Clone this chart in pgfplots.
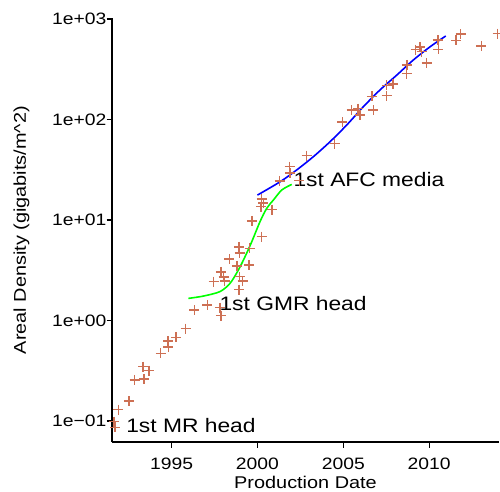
\documentclass[border=0pt]{standalone}
\usepackage{fontspec}
\setmainfont{Liberation Sans}[FakeStretch=1.17]
\usepackage{pgfplots}
\pgfplotsset{compat=1.18}
\definecolor{ptcol}{RGB}{205,112,84}
\definecolor{gcol}{RGB}{0,255,0}
\definecolor{bcol}{RGB}{0,0,255}
\begin{document}
\fontsize{16.5}{19}\selectfont
\begin{tikzpicture}
\useasboundingbox (-112pt,-49pt) rectangle (388pt,442pt);
\begin{axis}[
  at={(0pt,0pt)}, anchor=south west,
  scale only axis, width=387pt, height=424pt,
  ymode=log,
  xmin=1991.53, xmax=2014.07, ymin=0.0618, ymax=1023,
  axis x line*=bottom, axis y line*=left,
  axis line style={-, line width=1.1pt, black},
  tick style={line width=1.1pt, black},
  tick align=outside, major tick length=5.5pt, minor tick length=0pt,
  xtick={1995,2000,2005,2010}, xticklabels={1995,2000,2005,2010},
  ytick={0.1,1,10,100,1000}, yticklabels={1e−01,1e+00,1e+01,1e+02,1e+03},
  xticklabel style={font=\fontsize{16.5}{19}\selectfont, anchor=base, inner sep=0pt, yshift=-21.5pt},
  yticklabel style={font=\fontsize{16.5}{19}\selectfont, anchor=east, inner sep=0pt},
  xlabel={Production Date},
  ylabel={Areal Density (gigabits/m\textasciicircum2)},
  xlabel style={font=\fontsize{17}{20}\selectfont, at={([yshift=-46pt]rel axis cs:0.5,0)}, anchor=base, inner sep=0pt},
  ylabel style={font=\fontsize{17}{20}\selectfont, at={([xshift=-86pt]rel axis cs:0,0.5)}, anchor=base, inner sep=0pt, rotate=0},
]
\addplot[only marks, mark=+, mark size=5pt, color=ptcol, mark options={line width=1.5pt}] coordinates {
(1991.71,0.0865) (1991.65,0.0984) (1991.90,0.130) (1992.51,0.158) (1992.85,0.256)
(1993.34,0.348) (1993.40,0.262) (1993.69,0.317) (1994.36,0.472) (1994.80,0.625)
(1994.81,0.545) (1995.25,0.681) (1995.82,0.832) (1996.33,1.27) (1997.08,1.43)
(1997.82,1.34) (1997.87,1.12) (1997.45,2.44) (1997.87,3.04) (1998.03,2.71)
(1998.09,2.47) (1998.37,4.09) (1998.81,3.49) (1998.93,5.39) (1998.96,4.70)
(1998.96,2.74) (1999.14,2.47) (1998.93,2.03) (1999.54,5.21) (1999.51,3.57)
(1999.67,9.78) (2000.24,6.82) (2000.25,16.1) (2000.35,14.7) (2000.20,13.6)
(2000.85,12.7) (2001.30,24.5) (2001.88,33.9) (2001.90,29.2) (2002.45,24.7)
(2002.87,43.8) (2004.49,57.7) (2004.95,94.0) (2005.49,124) (2005.85,128)
(2005.98,111) (2006.75,124) (2006.66,170) (2007.53,173) (2007.53,218)
(2007.90,226) (2008.69,286) (2008.70,349) (2009.86,365) (2009.21,495)
(2009.47,529) (2009.57,473) (2010.54,500) (2010.51,618) (2011.57,614)
(2011.84,709) (2013.04,541) (2013.99,714)
};
\addplot[color=gcol, line width=1.6pt, smooth] coordinates {
(1995.98,1.66) (1996.85,1.75) (1997.82,1.94) (1998.41,2.35) (1998.89,3.18)
(1999.28,4.32) (1999.67,6.08) (2000.15,9.62) (2000.54,13.06) (2000.93,15.8)
(2001.42,19.9) (2002.00,22.6)
};
\addplot[color=bcol, line width=1.6pt, smooth] coordinates {
(2000.00,17.7) (2001.32,24.0) (2002.29,31.5) (2003.26,42.7) (2004.23,60.1)
(2005.20,88.1) (2006.17,134) (2007.14,197) (2008.12,277) (2009.08,391)
(2010.06,530) (2010.97,678)
};
\node[anchor=base west, inner sep=0pt, font=\fontsize{19.5}{23}\selectfont] at (axis cs:1992.35,0.0765) {1st MR head};
\node[anchor=base west, inner sep=0pt, font=\fontsize{19.5}{23}\selectfont] at (axis cs:1997.78,1.244) {1st GMR head};
\node[anchor=base west, inner sep=0pt, font=\fontsize{19.5}{23}\selectfont] at (axis cs:2002.09,21.4) {1st AFC media};
\end{axis}
\end{tikzpicture}
\end{document}
